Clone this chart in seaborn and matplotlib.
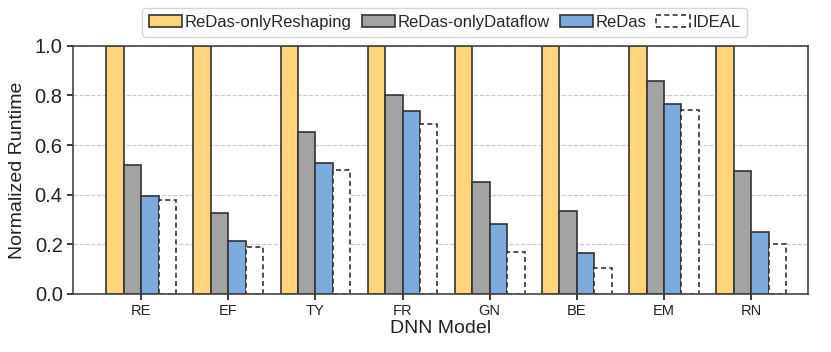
import matplotlib
matplotlib.use("Agg")
import matplotlib.pyplot as plt
import seaborn as sns
import pandas as pd
from matplotlib.patches import Patch

models = ["RE", "EF", "TY", "FR", "GN", "BE", "EM", "RN"]
series_names = ["ReDas-onlyReshaping", "ReDas-onlyDataflow", "ReDas", "IDEAL"]
only_reshaping = [1.0, 1.0, 1.0, 1.0, 1.0, 1.0, 1.0, 1.0]
only_dataflow = [0.52, 0.327, 0.653, 0.80, 0.452, 0.335, 0.859, 0.496]
redas = [0.395, 0.214, 0.528, 0.738, 0.282, 0.165, 0.766, 0.25]
ideal = [0.38, 0.19, 0.50, 0.685, 0.17, 0.105, 0.742, 0.20]

colors = ["#FFD47A", "#A3A3A3", "#7DAADD", "white"]

rows = []
for name, vals in zip(series_names, [only_reshaping, only_dataflow, redas, ideal]):
    for m, v in zip(models, vals):
        rows.append({"Model": m, "Series": name, "Value": v})
df = pd.DataFrame(rows)

sns.set_theme(style="ticks")
plt.rcParams["font.family"] = ["Liberation Sans", "DejaVu Sans"]

fig, ax = plt.subplots(figsize=(8.31, 3.52), dpi=100)
sns.barplot(data=df, x="Model", y="Value", hue="Series", order=models,
            hue_order=series_names, palette=colors, width=0.8, ax=ax,
            edgecolor="#333333", linewidth=1.2, saturation=1, legend=False)

for i, cont in enumerate(ax.containers):
    for p in cont.patches:
        p.set_edgecolor("#333333")
        if i == 3:
            p.set_facecolor("white")
            p.set_linestyle((0, (3, 2)))

ax.set_ylim(0, 1.0)
ax.set_xlim(-0.78, 7.65)
ax.set_yticks([0, 0.2, 0.4, 0.6, 0.8, 1.0])
ax.set_yticklabels(["0.0", "0.2", "0.4", "0.6", "0.8", "1.0"], fontsize=14.5)
ax.tick_params(axis="x", labelsize=10.5, colors="#222222", length=4)
ax.tick_params(axis="y", colors="#222222", length=4)
ax.yaxis.grid(True, linestyle="--", color="#c8c8c8", linewidth=0.8)
ax.set_axisbelow(True)
ax.set_xlabel("DNN Model", fontsize=14, color="#222222", labelpad=1)
ax.set_ylabel("Normalized Runtime", fontsize=14, color="#222222", labelpad=6)
for s in ax.spines.values():
    s.set_color("#444444")
    s.set_linewidth(1.2)

handles = []
for i, (n, c) in enumerate(zip(series_names, colors)):
    if i == 3:
        handles.append(Patch(facecolor="white", edgecolor="#333333", linestyle=(0, (3, 2)), linewidth=1.2, label=n))
    else:
        handles.append(Patch(facecolor=c, edgecolor="#333333", linewidth=1.2, label=n))
leg = fig.legend(handles=handles, loc="upper center", bbox_to_anchor=(0.535, 1.0), ncol=4,
                 fontsize=12, frameon=True, handlelength=2.0, handletextpad=0.15,
                 columnspacing=0.6, borderpad=0.4, fancybox=True)
leg.get_frame().set_edgecolor("#cccccc")

fig.subplots_adjust(left=0.088, right=0.972, top=0.87, bottom=0.165)
fig.savefig("out.png", dpi=100)
